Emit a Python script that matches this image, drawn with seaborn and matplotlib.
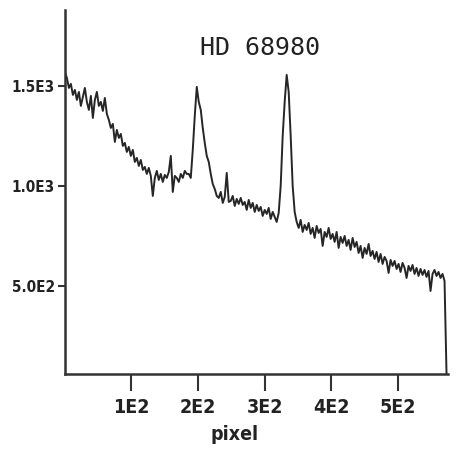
import numpy as np
import pandas as pd
import seaborn as sns
import matplotlib.pyplot as plt

sns.set_style("ticks")
plt.rcParams['font.family'] = ['DejaVu Sans']
plt.rcParams['font.stretch'] = 'condensed'

# spectrum, one value every 3 pixels
pixel = np.arange(0, 576, 3)
counts = [1570, 1540, 1490, 1510, 1455, 1480, 1430, 1470, 1400, 1445,
          1490, 1420, 1380, 1450, 1340, 1430, 1470, 1400, 1420, 1375,
          1440, 1360, 1330, 1290, 1310, 1220, 1280, 1240, 1260, 1200,
          1215, 1170, 1195, 1150, 1180, 1120, 1140, 1100, 1130, 1080,
          1095, 1060, 1090, 1050, 950, 1040, 1075, 1030, 1060, 1020,
          1055, 1040, 1070, 1150, 970, 1050, 1040, 1020, 1060, 1040,
          1075, 1060, 1060, 1040, 1180, 1350, 1495, 1420, 1380, 1290,
          1215, 1150, 1120, 1060, 1010, 985, 950, 940, 970, 915,
          945, 1065, 920, 925, 950, 900, 935, 910, 940, 905,
          920, 880, 930, 890, 915, 870, 905, 875, 895, 850,
          880, 860, 890, 835, 870, 845, 820, 865, 1000, 1250,
          1420, 1555, 1470, 1250, 1000, 870, 820, 790, 830, 770,
          805, 780, 815, 760, 790, 740, 800, 765, 785, 700,
          770, 745, 790, 735, 760, 720, 770, 690, 745, 715,
          750, 700, 730, 680, 740, 695, 720, 665, 700, 640,
          690, 660, 710, 650, 675, 635, 670, 620, 660, 610,
          645, 625, 565, 630, 600, 625, 585, 610, 570, 615,
          590, 540, 600, 575, 605, 560, 590, 550, 585, 555,
          580, 545, 575, 475, 560, 580, 550, 570, 540, 560,
          525, 60]

x_ticks = [100, 200, 300, 400, 500]
x_labels = ['1E2', '2E2', '3E2', '4E2', '5E2']
y_ticks = [500, 1000, 1500]
y_labels = ['5.0E2', '1.0E3', '1.5E3']

df = pd.DataFrame({'pixel': pixel, 'counts': counts})

fig = plt.figure(figsize=(4.57, 4.5), dpi=100)
ax = fig.add_axes([0.142, 0.169, 0.838, 0.809])

sns.lineplot(x='pixel', y='counts', data=df, ax=ax, color='#262626', linewidth=1.4)

ax.set_xlim(0, 575)
ax.set_ylim(60, 1880)
ax.set_xticks(x_ticks)
ax.set_xticklabels(x_labels, fontsize=14, fontweight='bold', color='#222222')
ax.set_yticks(y_ticks)
ax.set_yticklabels(y_labels, fontsize=11, fontweight='bold', color='#222222')
ax.tick_params(axis='x', length=12, width=1.5, color='#333333', pad=5)
ax.tick_params(axis='y', length=5, width=1.5, color='#333333', pad=2)
ax.set_xlabel('pixel', fontsize=14, fontweight='bold', color='#222222')
ax.xaxis.set_label_coords(0.444, -0.14)
ax.set_ylabel('')

sns.despine(ax=ax)
for side in ['left', 'bottom']:
    ax.spines[side].set_linewidth(1.8)
    ax.spines[side].set_color('#333333')

ax.text(0.51, 0.895, 'HD 68980', transform=ax.transAxes, ha='center', va='center',
        fontsize=18, family='DejaVu Sans Mono', fontstretch='normal', color='#222222')

fig.savefig('out.png', dpi=100)
